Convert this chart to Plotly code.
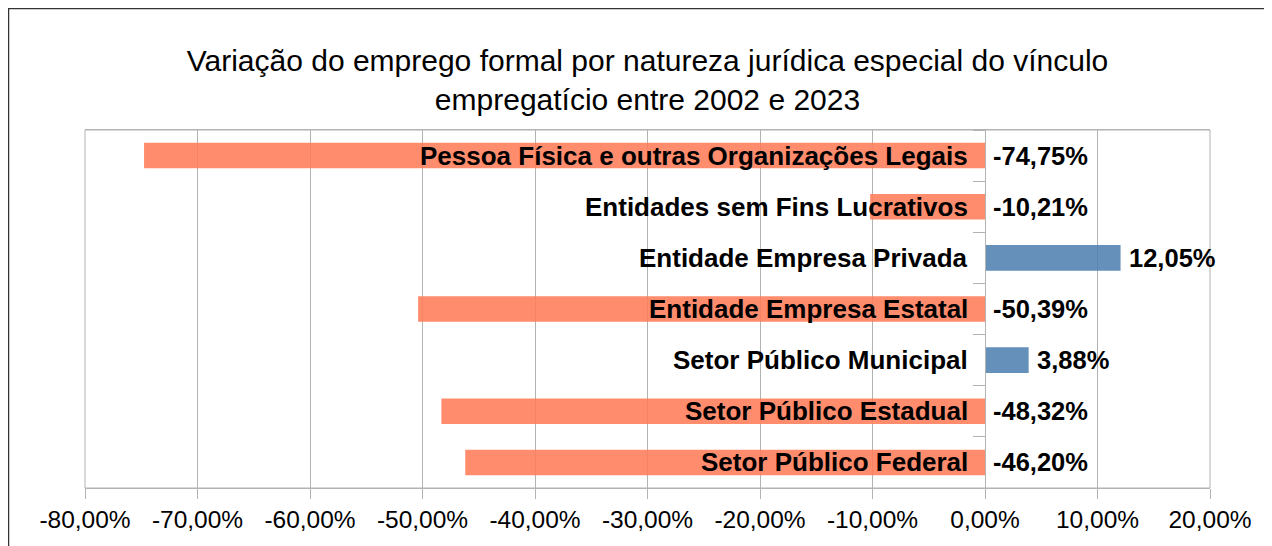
import plotly.graph_objects as go

categories = [
    "Pessoa Física e outras Organizações Legais",
    "Entidades sem Fins Lucrativos",
    "Entidade Empresa Privada",
    "Entidade Empresa Estatal",
    "Setor Público Municipal",
    "Setor Público Estadual",
    "Setor Público Federal",
]
variation = [-74.75, -10.21, 12.05, -50.39, 3.88, -48.32, -46.20]
value_labels = ["-74,75%", "-10,21%", "12,05%", "-50,39%", "3,88%", "-48,32%", "-46,20%"]
tick_values = [-80, -70, -60, -50, -40, -30, -20, -10, 0, 10, 20]
tick_labels = ["-80,00%", "-70,00%", "-60,00%", "-50,00%", "-40,00%", "-30,00%",
               "-20,00%", "-10,00%", "0,00%", "10,00%", "20,00%"]
title_text = "Variação do emprego formal por natureza jurídica especial do vínculo<br>empregatício entre 2002 e 2023"

NEG = "#FF7C59"
POS = "#4F81B1"
colors = [NEG if v < 0 else POS for v in variation]

fig = go.Figure()
fig.add_trace(go.Bar(
    x=variation, y=categories, orientation="h",
    marker=dict(color=colors, opacity=0.88, line=dict(width=0)),
    width=0.5, hoverinfo="skip",
))

FONT = "Liberation Sans, Arial, sans-serif"
annotations = []
for c, v, lab in zip(categories, variation, value_labels):
    annotations.append(dict(x=0, y=c, xref="x", yref="y", text="<b>" + c + "</b>",
                            showarrow=False, xanchor="right", xshift=-15,
                            font=dict(family=FONT, size=26, color="black")))
    annotations.append(dict(x=max(0, v), y=c, xref="x", yref="y", text="<b>" + lab + "</b>",
                            showarrow=False, xanchor="left", xshift=6,
                            font=dict(family=FONT, size=25.5, color="black")))

L, R, T, B = 77, 70, 122, 66
W, H = 1272, 546
pw, ph = W - L - R, H - T - B

fig.update_layout(
    width=W, height=H,
    margin=dict(l=L, r=R, t=T, b=B),
    paper_bgcolor="white", plot_bgcolor="white",
    showlegend=False,
    title=dict(text=title_text, x=0.5, xref="paper", xanchor="center",
               y=1 - 63 / H, yanchor="middle",
               font=dict(family=FONT, size=30, color="black")),
    xaxis=dict(range=[-80, 20], tickvals=tick_values, ticktext=tick_labels,
               showgrid=True, gridcolor="#B3B3B3", gridwidth=1,
               zeroline=True, zerolinecolor="#B3B3B3", zerolinewidth=1,
               showline=True, linecolor="#B3B3B3", linewidth=1, mirror=True,
               ticks="outside", ticklen=10, tickcolor="#B3B3B3",
               tickfont=dict(family=FONT, size=24.5, color="black")),
    yaxis=dict(categoryorder="array", categoryarray=categories[::-1],
               showticklabels=False, showgrid=False, zeroline=False,
               anchor="free", position=80 / 100,
               showline=True, linecolor="#B3B3B3", linewidth=1,
               ticks="outside", ticklen=12, tickcolor="#B3B3B3",
               tickson="boundaries"),
    annotations=annotations,
    shapes=[
        dict(type="rect", xref="paper", yref="paper", x0=0, x1=1, y0=0, y1=1,
             line=dict(color="#B3B3B3", width=1), layer="above"),
        dict(type="rect", xref="paper", yref="paper",
             x0=(0.5 - L) / pw, x1=(W + 20 - L) / pw,
             y0=-(H + 20 - (H - B)) / ph, y1=((H - B) - 0.5) / ph,
             line=dict(color="#333333", width=1.5), layer="above"),
    ],
)

fig.write_html("out.html")
